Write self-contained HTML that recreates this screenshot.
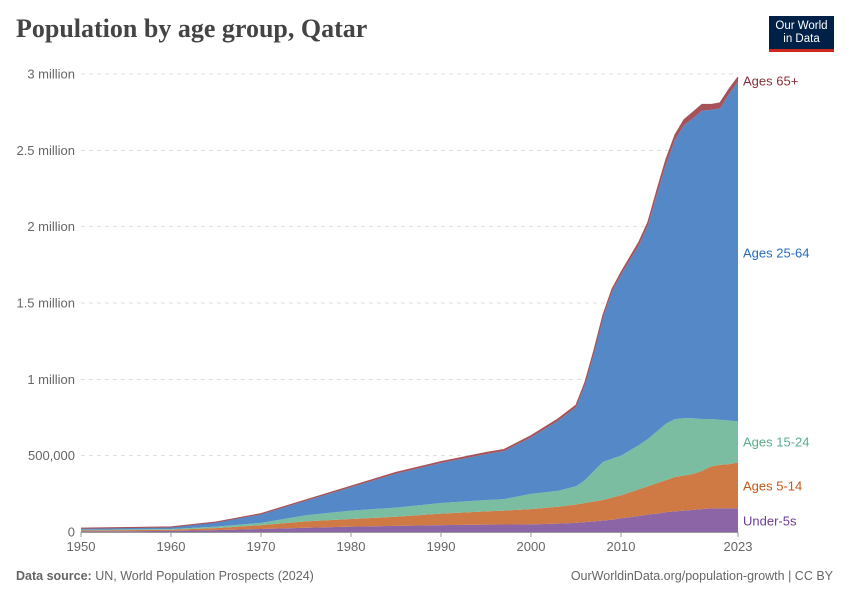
<!DOCTYPE html>
<html><head><meta charset="utf-8"><style>
body{margin:0;background:#fff;font-family:"Liberation Sans",sans-serif;}
#wrap{position:relative;width:850px;height:600px;overflow:hidden;}
.title{position:absolute;left:16px;top:14px;font-family:"Liberation Serif",serif;font-weight:bold;font-size:26px;color:#444;}
.logo{position:absolute;left:769px;top:16px;width:65px;height:36px;background:#002147;color:#fff;font-size:11.5px;line-height:13px;text-align:center;box-sizing:border-box;padding-top:4px;border-bottom:3px solid #ce261e;}
.foot{position:absolute;top:569px;font-size:12.5px;color:#666;}
</style></head><body>
<div id="wrap">
<div class="title">Population by age group, Qatar</div>
<div class="logo">Our World<br>in Data</div>
<svg id="chart" width="850" height="600" style="position:absolute;left:0;top:0"></svg>
<div class="foot" style="left:16px"><b>Data source:</b> UN, World Population Prospects (2024)</div>
<div class="foot" style="right:17px">OurWorldinData.org/population-growth | CC BY</div>
</div>
<script>
const years=[1950,1955,1960,1965,1970,1975,1980,1985,1990,1995,1997,2000,2003,2005,2006,2007,2008,2009,2010,2012,2013,2014,2015,2016,2017,2018,2019,2020,2021,2022,2023];
const under5=[.004,.005,.007,.012,.020,.028,.035,.040,.045,.048,.049,.050,.055,.060,.065,.070,.075,.080,.090,.105,.115,.120,.130,.135,.140,.145,.150,.155,.155,.155,.155];
const ages5to14=[.006,.007,.008,.013,.025,.042,.050,.060,.075,.087,.091,.100,.110,.120,.125,.130,.135,.145,.150,.175,.185,.200,.210,.225,.230,.235,.250,.275,.285,.290,.300];
const ages15to24=[.005,.005,.005,.010,.015,.040,.055,.060,.070,.075,.075,.100,.105,.120,.150,.200,.250,.255,.260,.290,.310,.340,.370,.380,.375,.365,.340,.310,.295,.285,.270];
const ages25to64=[.007,.009,.010,.027,.055,.095,.153,.222,.262,.300,.315,.370,.458,.518,.628,.778,.948,1.095,1.185,1.310,1.400,1.555,1.700,1.830,1.920,1.965,2.020,2.025,2.040,2.140,2.225];
const ages65plus=[.003,.003,.003,.003,.005,.005,.007,.008,.008,.010,.010,.010,.012,.012,.012,.012,.012,.015,.015,.020,.020,.025,.030,.030,.035,.040,.040,.035,.035,.030,.030];
const yTicks=[0,0.5,1,1.5,2,2.5,3];
const yTickLabels=["0","500,000","1 million","1.5 million","2 million","2.5 million","3 million"];
const xTicks=[1950,1960,1970,1980,1990,2000,2010,2023];
const seriesNames=["Under-5s","Ages 5-14","Ages 15-24","Ages 25-64","Ages 65+"];

const NS="http://www.w3.org/2000/svg";
const svg=document.getElementById('chart');
const X=y=>81+(y-1950)*(738-81)/73;
const Y=v=>532-v*(532-74)/3;
function mk(t,a){const e=document.createElementNS(NS,t);for(const k in a)e.setAttribute(k,a[k]);svg.appendChild(e);return e;}
yTicks.forEach((t,i)=>{
  if(t>0){const g=mk('line',{x1:81,x2:738,y1:Y(t),y2:Y(t),stroke:'#ddd','stroke-dasharray':'4,4'});
  
  }
  const l=mk('text',{x:75,y:Y(t)+4.5,'text-anchor':'end','font-size':13,fill:'#666'});
  l.textContent=yTickLabels[i];
  
  
});
const series=[under5,ages5to14,ages15to24,ages25to64,ages65plus];
const fills=['#8c65a7','#cf7944','#7bbda0','#5488c7','#a5525a'];
const labelColors=['#6d3e91','#c05917','#58ac8c','#286bbb','#883039'];
let base=years.map(()=>0);
const tops=[];
series.forEach((s,si)=>{
  const top=base.map((b,i)=>b+s[i]);
  let d='M'+years.map((y,i)=>X(y)+','+Y(top[i])).join('L');
  for(let i=years.length-1;i>=0;i--)d+='L'+X(years[i])+','+Y(base[i]);
  d+='Z';
  const p=mk('path',{d:d,fill:fills[si]});
  
  
  tops.push(top);base=top;
});
const tl=mk('path',{d:'M'+years.map((y,i)=>X(y)+','+Y(base[i])).join('L'),fill:'none',stroke:'#a5525a','stroke-width':1.2});


const ax=mk('line',{x1:81,x2:738,y1:532.5,y2:532.5,stroke:'#999'});


xTicks.forEach(t=>{
  const tk=mk('line',{x1:X(t),x2:X(t),y1:532,y2:537,stroke:'#999'});
  
  
  const l=mk('text',{x:X(t),y:551,'text-anchor':'middle','font-size':13,fill:'#666'});
  l.textContent=t;
  
  
});
const labelY=[521,486,442,253,81];
seriesNames.forEach((n,i)=>{
  const l=mk('text',{x:743,y:labelY[i]+4.5,'font-size':13,fill:labelColors[i]});
  l.textContent=n;
  
  
});
</script>
</body></html>
